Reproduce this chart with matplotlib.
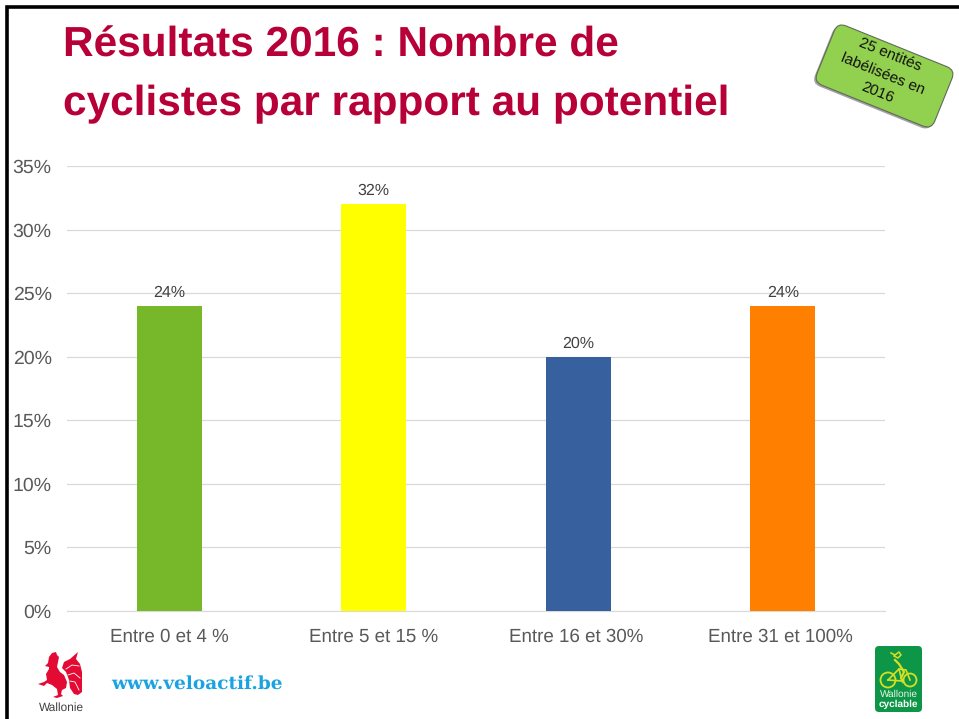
import matplotlib
matplotlib.use("Agg")
import matplotlib.pyplot as plt
from matplotlib.patches import FancyBboxPatch, Polygon, Circle
from matplotlib.transforms import Affine2D, ScaledTranslation

categories = ["Entre 0 et 4 %", "Entre 5 et 15 %", "Entre 16 et 30%", "Entre 31 et 100%"]
values = [24, 32, 20, 24]
bar_colors = ["#76B82A", "#FFFF00", "#37609F", "#FF7F00"]
y_ticks = [0, 5, 10, 15, 20, 25, 30, 35]

W, H = 959, 719
plt.rcParams["font.family"] = ["Liberation Sans", "DejaVu Sans"]
plt.rcParams["text.hinting"] = "none"

fig = plt.figure(figsize=(W / 100, H / 100), dpi=100)

# overlay in pixel coordinates for the slide decoration
bg = fig.add_axes([0, 0, 1, 1], zorder=0)
bg.set_xlim(0, W)
bg.set_ylim(H, 0)
bg.axis("off")

ax = fig.add_axes([67 / W, 1 - 611 / H, (885 - 67) / W, (611 - 166) / H], zorder=1)
ax.patch.set_alpha(0)
x = range(len(categories))
ax.bar(x, values, width=0.32, color=bar_colors, zorder=3)
for i, v in zip(x, values):
    ax.text(i, v + 0.45, f"{v}%", ha="center", va="bottom", fontsize=11.5, color="#404040")
ax.set_xlim(-0.5, 3.5)
ax.set_ylim(0, 35)
ax.set_yticks(y_ticks)
ax.set_yticklabels([f"{t}%" for t in y_ticks], fontsize=14, color="#595959")
ax.set_xticks(list(x))
ax.set_xticklabels(categories, fontsize=13.5, color="#595959")
ax.tick_params(length=0)
ax.tick_params(axis="y", pad=11)
ax.tick_params(axis="x", pad=12)
ax.grid(axis="y", color="#D9D9D9", lw=0.9, zorder=0)
ax.set_axisbelow(True)
for s in ["top", "right", "left"]:
    ax.spines[s].set_visible(False)
ax.spines["bottom"].set_color("#D9D9D9")
# labels sit a little left of their bars on the last two groups
for lab in ax.get_xticklabels()[2:]:
    lab.set_transform(lab.get_transform() + ScaledTranslation(-2.5 / 100, 0, fig.dpi_scale_trans))

# slide frame
bg.plot([6.5, 6.5, W], [H, 6.5, 6.5], color="black", lw=2.6, solid_joinstyle="miter")

# title
title_color = "#B80038"
bg.text(63, 57, "Résultats 2016 : Nombre de", fontsize=30.5, fontweight="bold", color=title_color, va="baseline")
bg.text(63, 115, "cyclistes par rapport au potentiel", fontsize=30.5, fontweight="bold", color=title_color, va="baseline")

# green label
box_xy = (821, 44)
box_w, box_h = 127, 64
shadow = FancyBboxPatch(box_xy, box_w, box_h, boxstyle="round,pad=0,rounding_size=9",
                        fc="#666666", ec="none", alpha=0.6,
                        transform=Affine2D().rotate_deg_around(884.5, 76, 22).translate(-2, 1.5) + bg.transData)
bg.add_patch(shadow)
box = FancyBboxPatch(box_xy, box_w, box_h, boxstyle="round,pad=0,rounding_size=9",
                     fc="#92D050", ec="#5F6B55", lw=0.8,
                     transform=Affine2D().rotate_deg_around(884.5, 76, 22) + bg.transData)
bg.add_patch(box)
bg.text(890, 55, "25 entités", fontsize=11, rotation=-22, rotation_mode="anchor", ha="center", va="center", color="#111111")
bg.text(883, 74, "labélisées en", fontsize=11, rotation=-22, rotation_mode="anchor", ha="center", va="center", color="#111111")
bg.text(877, 93, "2016", fontsize=11, rotation=-22, rotation_mode="anchor", ha="center", va="center", color="#111111")

# Wallonie rooster, rough shape
red = "#E30B34"
body = [(45, 666), (48, 663), (49, 657), (52, 653), (56, 652), (57, 655), (59, 657), (58, 662), (57, 667),
        (60, 672), (64, 675), (67, 682), (66, 688), (62, 690), (61, 694), (63, 696), (57, 698), (53, 697),
        (58, 695), (57, 689), (52, 685), (47, 683), (44, 686), (38, 684), (44, 682), (47, 680), (46, 674),
        (49, 669), (49, 667)]
tail = [(62, 668), (64, 662), (70, 659), (78, 652), (76, 659), (80, 664), (82, 672), (82, 682), (82, 692),
        (78, 695), (74, 694), (70, 688), (69, 680), (66, 672)]
bg.add_patch(Polygon(body, closed=True, fc=red, ec="none"))
bg.add_patch(Polygon(tail, closed=True, fc=red, ec="none"))
bg.plot([66, 72, 79], [669, 665, 666], color="white", lw=0.6)
bg.plot([68, 74, 80], [675, 673, 678], color="white", lw=0.6)
bg.plot([70, 75, 79], [681, 682, 690], color="white", lw=0.6)
bg.text(61, 708, "Wallonie", fontsize=8.6, ha="center", va="center", color="#404040")

bg.text(111, 684, "www.veloactif.be", fontsize=13.3, fontweight="bold", family="DejaVu Serif",
        color="#1AA3E0", va="center")

# Wallonie cyclable badge
badge = FancyBboxPatch((875, 646), 47, 66, boxstyle="round,pad=0,rounding_size=4", fc="#0E9648", ec="none")
bg.add_patch(badge)
yel = "#D7DF23"
bg.add_patch(Circle((888, 680), 7.5, fc="none", ec=yel, lw=1.3))
bg.add_patch(Circle((910, 680), 6.5, fc="none", ec=yel, lw=1.3))
bg.plot([888, 899, 906, 910], [680, 669, 670, 680], color=yel, lw=1.2)
bg.plot([888, 902, 899], [680, 681, 669], color=yel, lw=1.2)
bg.plot([895, 899, 904, 901, 903], [660, 664, 672, 678, 682], color=yel, lw=1.6)
bg.plot([891, 895, 899, 901, 898, 894], [653, 655, 652, 655, 658, 656], color=yel, lw=1.1)
bg.text(898.5, 694, "Wallonie", fontsize=7.2, ha="center", va="center", color="#E8F5E8")
bg.text(898.5, 704, "cyclable", fontsize=7.2, fontweight="bold", ha="center", va="center", color="white")

fig.savefig("out.png", dpi=100)
